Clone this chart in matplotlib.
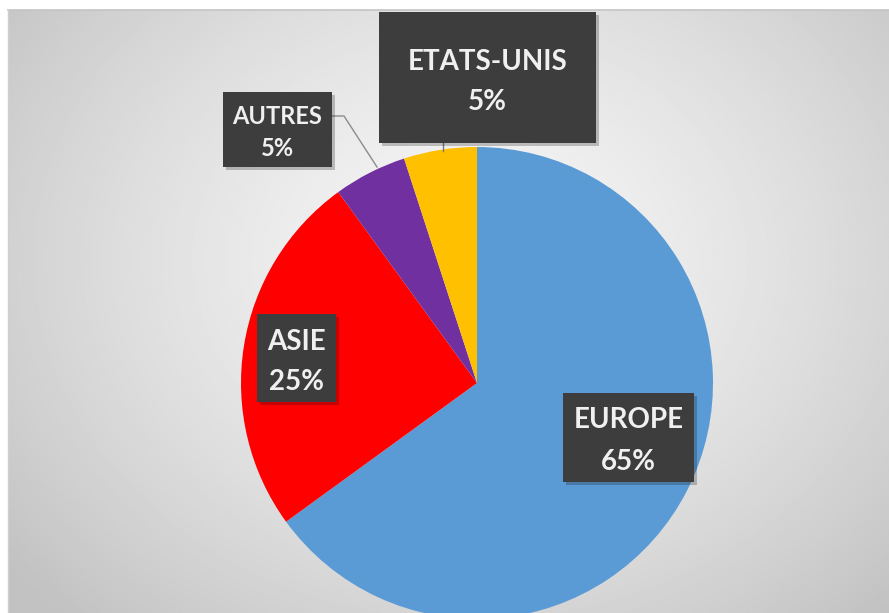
import numpy as np
import matplotlib
matplotlib.use("Agg")
import matplotlib.pyplot as plt
from matplotlib.patches import Rectangle

# Répartition par zone géographique
categories = ["EUROPE", "ASIE", "AUTRES", "ETATS-UNIS"]
shares = [65, 25, 5, 5]
slice_colors = ["#5B9BD5", "#FF0000", "#7030A0", "#FFC000"]

W, H = 889, 613
fig = plt.figure(figsize=(W / 100, H / 100), dpi=100)
ax = fig.add_axes([0, 0, 1, 1])
ax.set_xlim(0, W)
ax.set_ylim(0, H)
ax.axis("off")


def Y(y):
    """Convert a top-based pixel row into axis coordinates."""
    return H - y


# Grey radial-gradient plot area
x0, y0 = 8, 10
xs = np.linspace(x0, W, 400)
ys = np.linspace(y0, H, 300)
gx, gy = np.meshgrid(xs, ys)
d = np.sqrt(((gx - 470) / 520) ** 2 + ((gy - 260) / 430) ** 2)
shade = np.clip(0.965 - 0.17 * d ** 1.4, 0.76, 1.0)
ax.imshow(shade, cmap="gray", vmin=0, vmax=1, extent=(x0, W, Y(H), Y(y0)),
          origin="upper", aspect="auto", zorder=0, interpolation="bilinear")
ax.plot([x0, W], [Y(y0), Y(y0)], color="#c4c4c4", lw=1.2, zorder=1)
ax.plot([x0, x0], [Y(y0), Y(H)], color="#cfcfcf", lw=1.0, zorder=1)

# Pie, drawn clockwise from twelve o'clock
cx, cy, r = 477, 383, 236
ax.pie(shares, colors=slice_colors, startangle=90, counterclock=False,
       center=(cx, Y(cy)), radius=r, frame=True,
       wedgeprops=dict(linewidth=0, zorder=2))
ax.set_xlim(0, W)
ax.set_ylim(0, H)
ax.set_aspect("auto")
ax.axis("off")

# Leader lines
ax.plot([332, 344, 377], [Y(116), Y(116), Y(167)], color="#8c8c8c", lw=1.0, zorder=2.5)
ax.plot([443, 443], [Y(142), Y(151)], color="#7a7a7a", lw=1.0, zorder=2.5)

# Dark label boxes: (left, top, right, bottom, first-line y, second-line y, font size)
label_boxes = {
    "EUROPE": (563, 393, 694, 482, 418, 459, 20),
    "ASIE": (257, 314, 336, 402, 339, 379, 20),
    "AUTRES": (223, 92, 332, 167, 115, 146, 17),
    "ETATS-UNIS": (379, 12, 596, 143, 59, 100, 20),
}

for name, share in zip(categories, shares):
    l, t, rr, b, ty1, ty2, fs = label_boxes[name]
    ax.add_patch(Rectangle((l + 3, Y(b) - 3), rr - l, b - t, facecolor="#000000",
                           alpha=0.22, lw=0, zorder=3))
    ax.add_patch(Rectangle((l, Y(b)), rr - l, b - t, facecolor="#3d3d3d",
                           edgecolor="none", zorder=3.5))
    xc = (l + rr) / 2
    for txt, ty in ((name, ty1), (f"{share}%", ty2)):
        ax.text(xc, Y(ty), txt, ha="center", va="center_baseline", color="#f0f0f0",
                fontsize=fs, fontweight="bold", family="Lato", zorder=4)

fig.savefig("out.png", dpi=100, facecolor="white")
